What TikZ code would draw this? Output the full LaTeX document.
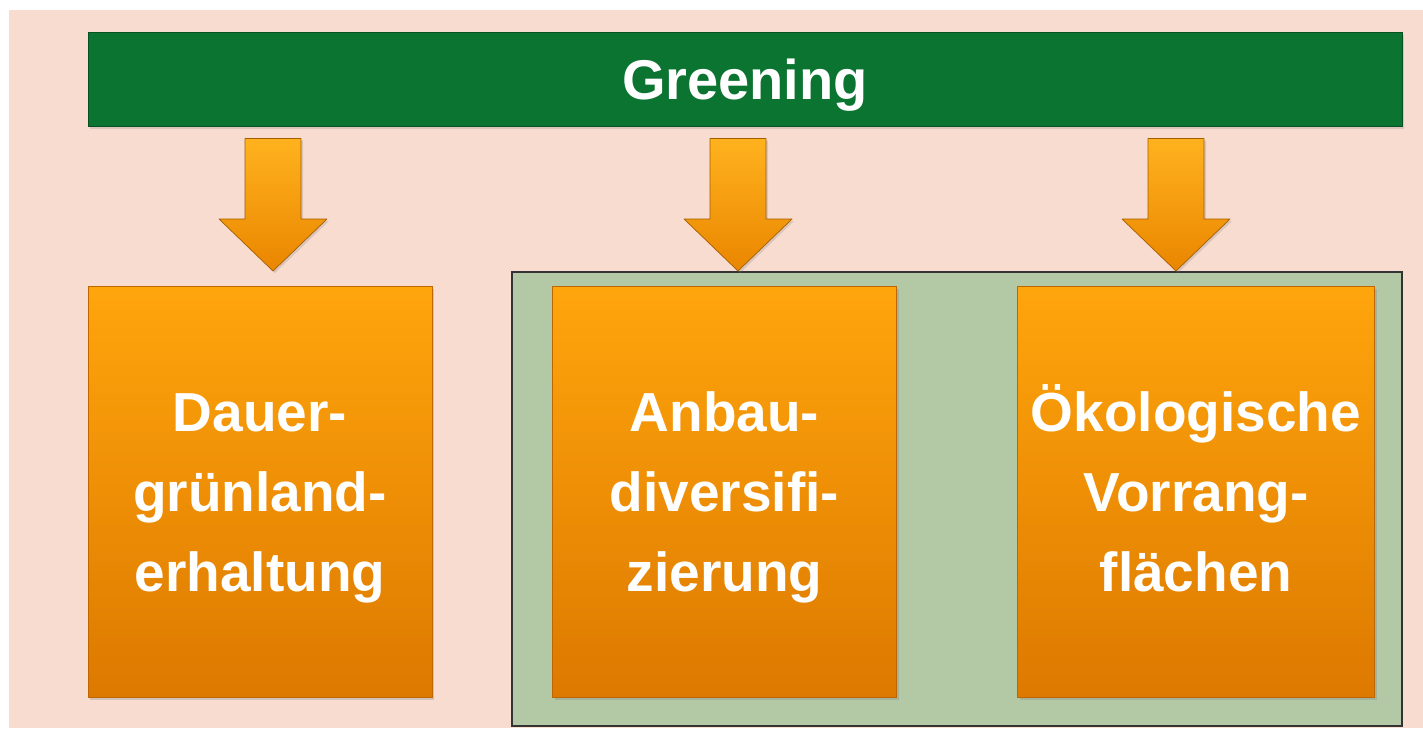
\documentclass[tikz,border=0pt]{standalone}
\usepackage{fontspec}
\setmainfont{Liberation Sans}
\usetikzlibrary{positioning,shadows,calc}
\definecolor{peach}{HTML}{F9DCD0}
\definecolor{leaf}{HTML}{0A7430}
\definecolor{sage}{HTML}{B3C9A5}
\definecolor{ambertop}{HTML}{FFA50C}
\definecolor{amberbot}{HTML}{DD7900}
\definecolor{arrowtop}{HTML}{FFB21E}
\definecolor{arrowbot}{HTML}{EA8600}
% first and last row of a box text: fixed height / no depth, so all boxes line up
\newcommand{\toprow}[1]{\raisebox{0pt}[39pt][0pt]{#1}}
\newcommand{\lowrow}[1]{\raisebox{0pt}[\height][0pt]{#1}}

\begin{document}
\begin{tikzpicture}[
			x=1pt,y=-1pt,
			every node/.style={font=\fontsize{55}{80}\selectfont\bfseries,text=white,align=center,inner sep=0pt},
			bar/.style={fill=leaf,draw=leaf!70!black,line width=1pt,minimum width=1314pt,minimum height=94pt,text height=40pt,text depth=0pt,font=\fontsize{56}{60}\selectfont\bfseries,drop shadow={opacity=.25,shadow xshift=2pt,shadow yshift=-3pt}},
			group/.style={fill=sage,draw=black!80,line width=1.2pt,minimum width=890pt,minimum height=454pt},
			obox/.style={top color=ambertop,bottom color=amberbot,draw=amberbot!85!black,line width=.6pt,minimum width=344pt,minimum height=411pt,drop shadow={opacity=.3,shadow xshift=2pt,shadow yshift=-3pt}},
			darr/.style={top color=arrowtop,bottom color=arrowbot,draw=arrowbot!70!black,line width=.7pt,line join=round,drop shadow={opacity=.25,shadow xshift=2pt,shadow yshift=-2pt}}
			]
			\useasboundingbox (0,0) rectangle (1423,728);
			\fill[white] (0,0) rectangle (1423,728);
			\fill[peach] (9,10) rectangle (1423,728);
			\node[bar] (greening) at (745,79) {Greening};
			\node[group] (group) at (957,499) {};
			\node[obox] (dauer) at (260,491.5) {\toprow{Dauer-}\\grünland-\\\lowrow{erhaltung}};
			\node[obox] (anbau) at (724.5,491.5) {\toprow{Anbau-}\\diversifi-\\\lowrow{zierung}};
			\node[obox,minimum width=357pt] (oeko) at (1196,491.5) {\toprow{Ökologische}\\Vorrang-\\\lowrow{flächen}};
			\coordinate (t1) at (273,271);
			\coordinate (t2) at (738,271);
			\coordinate (t3) at (1176,271);
			\foreach \t in {t1,t2,t3}
				\draw[darr] ($(greening.south -| \t)+(-28,12)$) -- ($(greening.south -| \t)+(28,12)$)
					-- ($(\t)+(28,-52)$) -- ($(\t)+(54,-52)$) -- (\t) -- ($(\t)+(-54,-52)$)
					-- ($(\t)+(-28,-52)$) -- cycle;
		\end{tikzpicture}
\end{document}
